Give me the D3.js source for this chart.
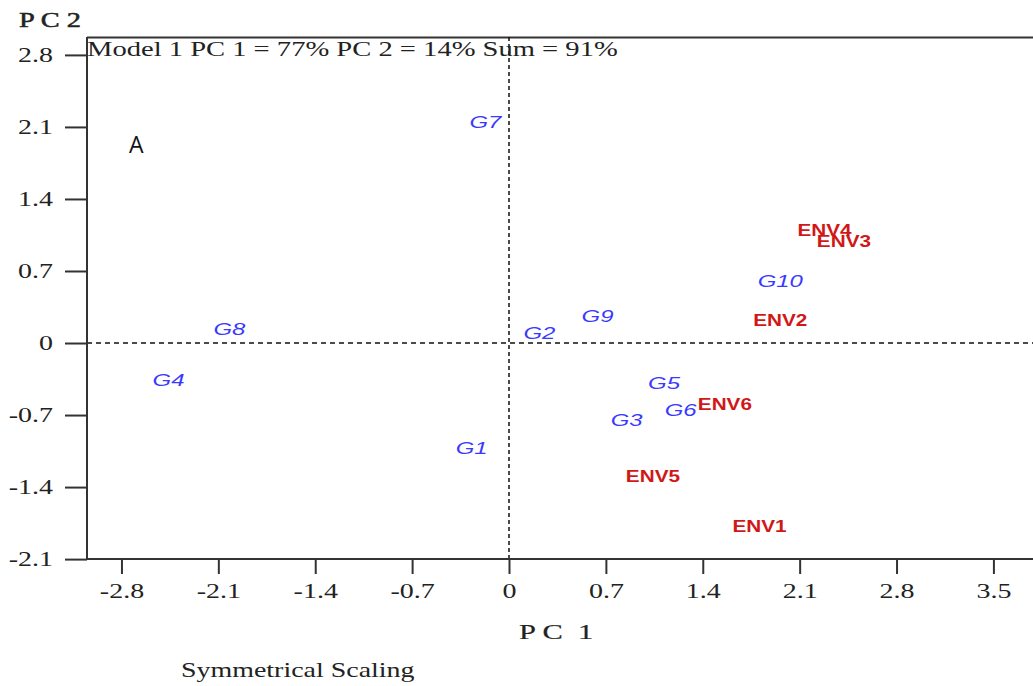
<!DOCTYPE html>
<html>
<head>
<meta charset="utf-8">
<script src="https://cdn.jsdelivr.net/npm/d3@7"></script>
<style>
  html, body { margin: 0; padding: 0; background: #fff; }
  svg { display: block; }
</style>
</head>
<body>
<svg id="chart" width="1033" height="686"></svg>
<script>
// Genotype scores (PC1, PC2)
const genotypes = ["G1", "G2", "G3", "G4", "G5", "G6", "G7", "G8", "G9", "G10"];
const genoPC1 = [-0.27, 0.22, 0.85, -2.46, 1.12, 1.24, -0.17, -2.02, 0.64, 1.96];
const genoPC2 = [-1.02, 0.10, -0.75, -0.36, -0.39, -0.65, 2.15, 0.14, 0.26, 0.60];

// Environment scores (PC1, PC2)
const environments = ["ENV1", "ENV2", "ENV3", "ENV4", "ENV5", "ENV6"];
const envPC1 = [1.81, 1.96, 2.42, 2.28, 1.04, 1.56];
const envPC2 = [-1.78, 0.22, 0.99, 1.09, -1.30, -0.60];

// Axis ticks
const xTicks = [-2.8, -2.1, -1.4, -0.7, 0, 0.7, 1.4, 2.1, 2.8, 3.5];
const yTicks = [2.8, 2.1, 1.4, 0.7, 0, -0.7, -1.4, -2.1];

const svg = d3.select("#chart");
const plotL = 87, plotR = 1033, plotT = 37, plotB = 559;

const x = d3.scaleLinear().domain([-3.049, 3.786]).range([plotL, plotR]);
const y = d3.scaleLinear().domain([-2.099, 2.974]).range([plotB, plotT]);

const serif = "'Liberation Serif', 'Times New Roman', serif";
const sans = "'Liberation Sans', Arial, sans-serif";
const ink = "#222";

// Widen glyphs horizontally (the figure uses a wide-set typeface)
function stretch(sel, sx) {
  sel.each(function () {
    const len = this.getComputedTextLength();
    d3.select(this)
      .attr("textLength", len * sx)
      .attr("lengthAdjust", "spacingAndGlyphs");
  });
}

const tickFmt = d => d === 0 ? "0" : d.toFixed(1);

// Frame: top border line
svg.append("line")
  .attr("x1", plotL).attr("x2", plotR)
  .attr("y1", plotT + 0.5).attr("y2", plotT + 0.5)
  .attr("stroke", "#333").attr("stroke-width", 2);

// Reference lines through the origin
svg.append("line")
  .attr("x1", x(0)).attr("x2", x(0))
  .attr("y1", plotT).attr("y2", plotB)
  .attr("stroke", "#111").attr("stroke-width", 1.5)
  .attr("stroke-dasharray", "4,3");
svg.append("line")
  .attr("x1", plotL).attr("x2", plotR)
  .attr("y1", y(0)).attr("y2", y(0))
  .attr("stroke", "#111").attr("stroke-width", 1.3)
  .attr("stroke-dasharray", "5,4");

// Y axis
const yAxis = svg.append("g")
  .attr("transform", `translate(${plotL},0)`)
  .call(d3.axisLeft(y).tickValues(yTicks).tickSize(22).tickPadding(12).tickFormat(tickFmt));
yAxis.select(".domain").attr("stroke", "#333").attr("stroke-width", 2)
  .attr("d", `M0,${plotT}V${plotB}`);
yAxis.selectAll(".tick line").attr("stroke", "#333").attr("stroke-width", 2);
yAxis.selectAll(".tick text")
  .attr("font-family", serif).attr("font-size", 21).attr("fill", ink)
  .call(stretch, 1.33);

// X axis
const xAxis = svg.append("g")
  .attr("transform", `translate(0,${plotB})`)
  .call(d3.axisBottom(x).tickValues(xTicks).tickSize(15).tickPadding(10).tickFormat(tickFmt));
xAxis.select(".domain").attr("stroke", "#333").attr("stroke-width", 2)
  .attr("d", `M${plotL},0H${plotR}`);
xAxis.selectAll(".tick line").attr("stroke", "#333").attr("stroke-width", 2);
xAxis.selectAll(".tick text")
  .attr("font-family", serif).attr("font-size", 20).attr("fill", ink)
  .call(stretch, 1.4);

// Titles
svg.append("text")
  .attr("x", 19).attr("y", 27)
  .attr("font-family", serif).attr("font-size", 21)
  .attr("fill", ink).attr("stroke", ink).attr("stroke-width", 0.5)
  .text("P C 2")
  .call(stretch, 1.35);
svg.append("text")
  .attr("x", 87).attr("y", 56)
  .attr("font-family", serif).attr("font-size", 21).attr("fill", ink)
  .text("Model 1 PC 1 = 77% PC 2 = 14% Sum = 91%")
  .call(stretch, 1.36);
svg.append("text")
  .attr("x", 519).attr("y", 639)
  .attr("font-family", serif).attr("font-size", 21).attr("fill", ink)
  .attr("stroke", ink).attr("stroke-width", 0.2)
  .style("white-space", "pre")
  .text("P C  1")
  .call(stretch, 1.45);
svg.append("text")
  .attr("x", 181).attr("y", 677)
  .attr("font-family", serif).attr("font-size", 21).attr("fill", ink)
  .text("Symmetrical Scaling")
  .call(stretch, 1.33);
svg.append("text")
  .attr("x", 129).attr("y", 153)
  .attr("font-family", "'Open Sans', " + sans).attr("font-size", 23).attr("fill", "#111")
  .text("A");

// Genotype labels
svg.append("g").selectAll("text")
  .data(genotypes)
  .join("text")
  .attr("x", (d, i) => x(genoPC1[i]))
  .attr("y", (d, i) => y(genoPC2[i]))
  .attr("text-anchor", "middle")
  .attr("dominant-baseline", "central")
  .attr("font-family", sans).attr("font-style", "italic").attr("font-size", 16.5)
  .attr("fill", "#3a3aff")
  .text(d => d)
  .call(stretch, 1.45);

// Environment labels
svg.append("g").selectAll("text")
  .data(environments)
  .join("text")
  .attr("x", (d, i) => x(envPC1[i]))
  .attr("y", (d, i) => y(envPC2[i]))
  .attr("text-anchor", "middle")
  .attr("dominant-baseline", "central")
  .attr("font-family", sans).attr("font-weight", "bold").attr("font-size", 17)
  .attr("fill", "#d01818")
  .text(d => d)
  .call(stretch, 1.22);
</script>
</body>
</html>
